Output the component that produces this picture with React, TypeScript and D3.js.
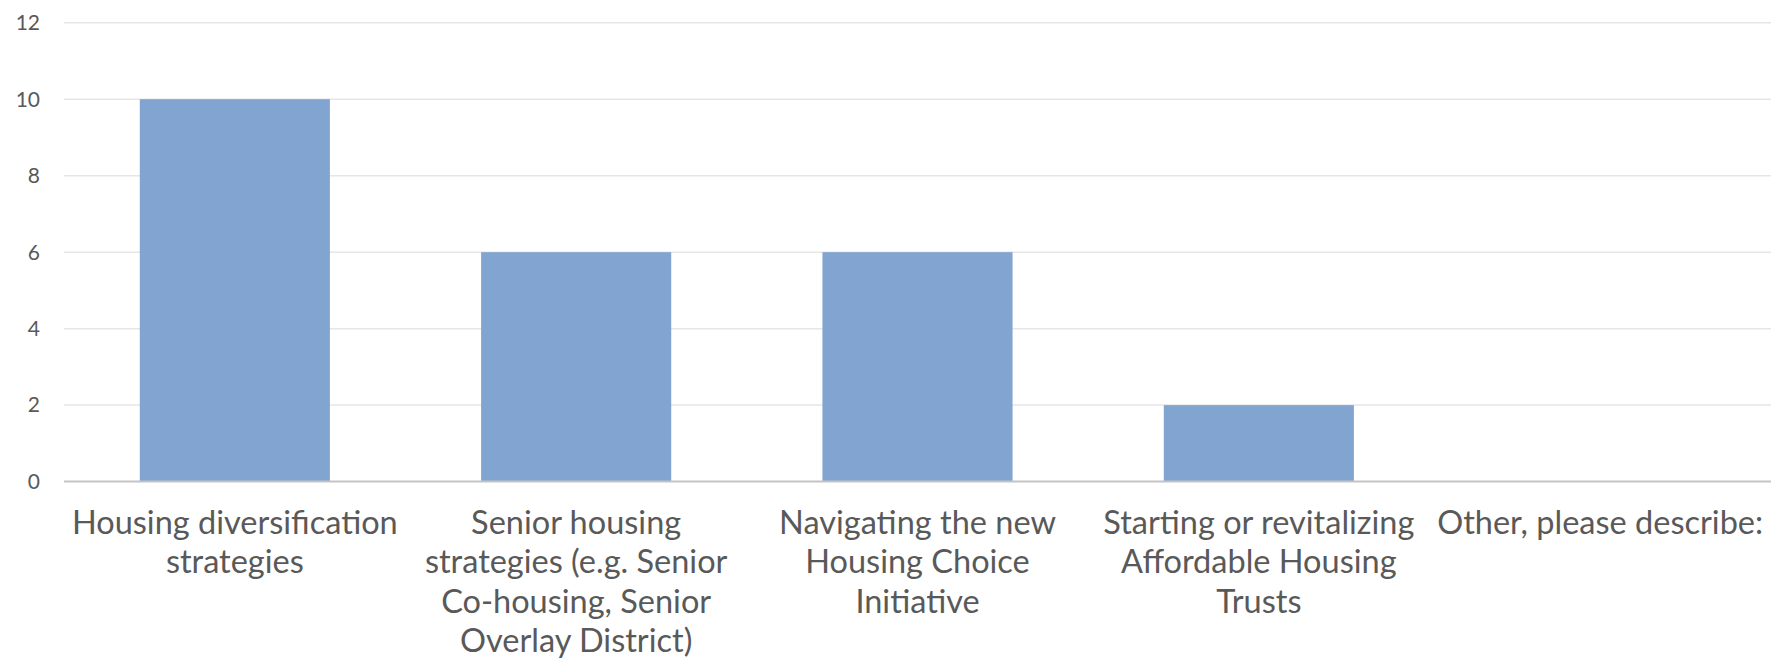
import React from "react";
import * as d3 from "d3";

const categories = [
  "Housing diversification strategies",
  "Senior housing strategies (e.g. Senior Co-housing, Senior Overlay District)",
  "Navigating the new Housing Choice Initiative",
  "Starting or revitalizing Affordable Housing Trusts",
  "Other, please describe:",
];
const categoryLines = [
  ["Housing diversification", "strategies"],
  ["Senior housing", "strategies (e.g. Senior", "Co-housing, Senior", "Overlay District)"],
  ["Navigating the new", "Housing Choice", "Initiative"],
  ["Starting or revitalizing", "Affordable Housing", "Trusts"],
  ["Other, please describe:"],
];
const values = [10, 6, 6, 2, 0];
const yTicks = [0, 2, 4, 6, 8, 10, 12];

const W = 1781;
const H = 661;
const FONT = "Lato, 'Open Sans', sans-serif";

export default function App() {
  const x = d3
    .scaleBand<string>()
    .domain(categories)
    .range([64, 1771])
    .paddingInner(0.443)
    .paddingOuter(0.222);
  const y = d3.scaleLinear().domain([0, 12]).range([481.6, 22.7]);

  return (
    <svg
      width={W}
      height={H}
      style={{ position: "absolute", left: 0, top: 0, background: "#fff" }}
    >
      {yTicks.map((t) => (
        <g key={t}>
          {t !== 0 && (
            <line
              x1={64}
              x2={1771}
              y1={y(t)}
              y2={y(t)}
              stroke="#e6e6e6"
              strokeWidth={1.5}
            />
          )}
          <text
            x={40}
            y={y(t)}
            dy="0.35em"
            textAnchor="end"
            fontFamily={FONT}
            fontSize={21}
            fill="#595959"
          >
            {t}
          </text>
        </g>
      ))}
      {categories.map((c, i) => (
        <rect
          key={c}
          x={x(c)}
          y={y(values[i])}
          width={x.bandwidth()}
          height={y(0) - y(values[i])}
          fill="#81A5D0"
        />
      ))}
      <line x1={64} x2={1771} y1={y(0)} y2={y(0)} stroke="#c4c4c4" strokeWidth={2} />
      {categories.map((c, i) => (
        <text
          key={c}
          x={(x(c) as number) + x.bandwidth() / 2}
          textAnchor="middle"
          fontFamily={FONT}
          fontSize={32.5}
          fill="#595959"
        >
          {categoryLines[i].map((l, j) => (
            <tspan key={j} x={(x(c) as number) + x.bandwidth() / 2} y={534 + j * 39.3}>
              {l}
            </tspan>
          ))}
        </text>
      ))}
    </svg>
  );
}
